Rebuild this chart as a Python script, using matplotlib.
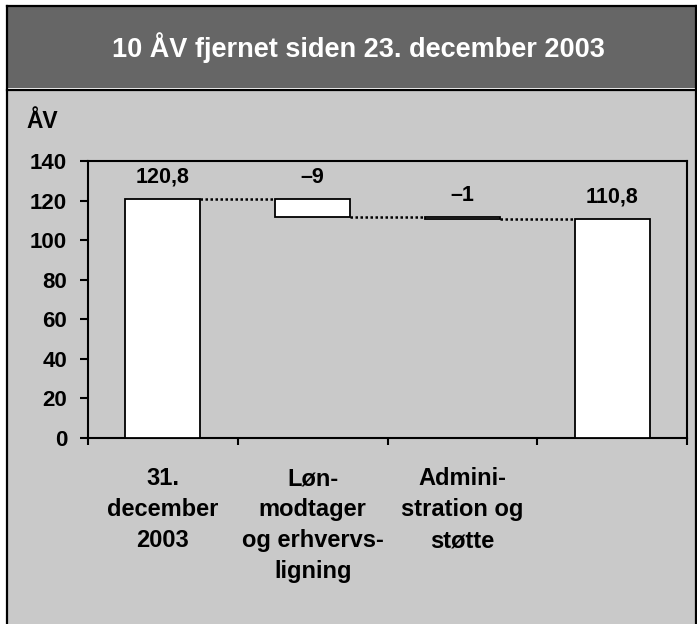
import matplotlib.pyplot as plt
from matplotlib.patches import Rectangle
from matplotlib.lines import Line2D

plt.rcParams['font.family'] = ['Liberation Sans', 'DejaVu Sans']
plt.rcParams['font.weight'] = 'bold'

categories = ['31.\ndecember\n2003', 'Løn-\nmodtager\nog erhvervs-\nligning',
              'Admini-\nstration og\nstøtte', '']
values = [120.8, -9, -1, 110.8]
is_total = [True, False, False, True]
value_labels = ['120,8', '\u20139', '\u20131', '110,8']
yticks = [0, 20, 40, 60, 80, 100, 120, 140]

W, H = 697, 624
fig = plt.figure(figsize=(W / 100, H / 100), dpi=100)
fig.patch.set_facecolor('white')


def fx(px):
    return px / W


def fy(py):
    return 1 - py / H


# panel background, title band and frame
fig.patches.append(Rectangle((fx(7), 0), fx(696) - fx(7), fy(90), transform=fig.transFigure,
                             facecolor='#c9c9c9', edgecolor='none', zorder=-3))
fig.patches.append(Rectangle((fx(7), fy(88)), fx(696) - fx(7), fy(6) - fy(88),
                             transform=fig.transFigure, facecolor='#666666', edgecolor='none', zorder=-2))
for xs, ys in [([fx(7), fx(7)], [0, fy(6)]), ([fx(696), fx(696)], [0, fy(6)]),
               ([fx(7), fx(696)], [fy(6), fy(6)]), ([fx(7), fx(696)], [fy(90), fy(90)])]:
    fig.lines.append(Line2D(xs, ys, transform=fig.transFigure, color='black', lw=1.6))

fig.text(fx(358), fy(48), '10 ÅV fjernet siden 23. december 2003', color='white',
         fontsize=19.5, fontweight='bold', ha='center', va='center')
fig.text(fx(26), fy(122), 'ÅV', fontsize=16.5, fontweight='bold', ha='left', va='center')

ax = fig.add_axes([fx(88), fy(438), fx(687) - fx(88), fy(161) - fy(438)])
ax.patch.set_visible(False)

# waterfall geometry
bottoms, heights, tops = [], [], []
level = 0
for v, tot in zip(values, is_total):
    if tot:
        b, h = 0, v
        level = v
    else:
        b, h = level + v, -v
        level = level + v
    bottoms.append(b)
    heights.append(h)
    tops.append(b + h)

centers = [i + 0.5 for i in range(len(values))]
width = 0.5
ax.bar(centers, heights, bottom=bottoms, width=width, color='white',
       edgecolor='black', linewidth=1.3, zorder=3)

# connectors
for i in range(len(values) - 1):
    lvl = tops[i] if is_total[i] else bottoms[i]
    ax.plot([centers[i] + width / 2, centers[i + 1] - width / 2], [lvl, lvl],
            linestyle=(0, (1, 1)), color='black', lw=1.8, zorder=2)

for c, t, lab in zip(centers, tops, value_labels):
    ax.annotate(lab, (c, t), xytext=(0, 8), textcoords='offset points',
                ha='center', va='bottom', fontsize=15.5, fontweight='bold')

ax.set_xlim(0, len(values))
ax.set_ylim(0, 140)
ax.set_yticks(yticks)
ax.set_yticklabels([str(t) for t in yticks], fontsize=16, fontweight='bold')
ax.tick_params(axis='y', direction='out', length=6, width=1.5, pad=9)

ax.set_xticks(centers)
ax.set_xticklabels(categories, fontsize=17, fontweight='bold', linespacing=1.45)
ax.tick_params(axis='x', which='major', length=0, pad=21)
ax.set_xticks(range(len(values) + 1), minor=True)
ax.tick_params(axis='x', which='minor', direction='out', length=5, width=1.5)

for s in ax.spines.values():
    s.set_linewidth(1.5)

fig.savefig('out.png', dpi=100)
